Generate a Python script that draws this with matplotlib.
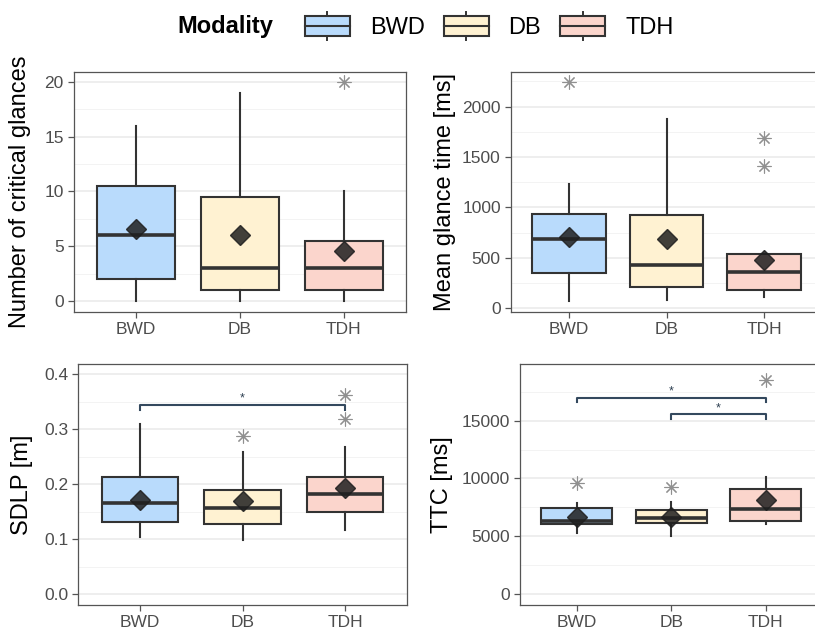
import matplotlib
matplotlib.use("Agg")
import matplotlib.pyplot as plt
from matplotlib.patches import Rectangle
from matplotlib.lines import Line2D
from matplotlib.legend_handler import HandlerBase
from matplotlib.ticker import MultipleLocator, FormatStrFormatter

plt.rcParams['font.family'] = ['Liberation Sans', 'DejaVu Sans']

# ------------------------------------------
# Data
# ------------------------------------------
groups = ["BWD", "DB", "TDH"]
fills = ["#b9dbfc", "#fff2d2", "#fbd5cc"]

# Number of critical glances
glance_q1 = [2, 1, 1]
glance_med = [6, 3, 3]
glance_q3 = [10.5, 9.5, 5.5]
glance_lo = [0, 0, 0]
glance_hi = [16, 19, 10]
glance_mean = [6.6, 6.0, 4.6]
glance_out = [[], [], [20]]

# Mean glance time [ms]
mgt_q1 = [353, 208, 182]
mgt_med = [687, 430, 357]
mgt_q3 = [932, 925, 536]
mgt_lo = [75, 82, 109]
mgt_hi = [1230, 1878, 536]
mgt_mean = [710, 687, 479]
mgt_out = [[2242], [], [1686, 1412]]

# SDLP [m]
sdlp_q1 = [0.131, 0.127, 0.150]
sdlp_med = [0.166, 0.157, 0.181]
sdlp_q3 = [0.213, 0.190, 0.212]
sdlp_lo = [0.103, 0.099, 0.116]
sdlp_hi = [0.309, 0.258, 0.267]
sdlp_mean = [0.171, 0.169, 0.192]
sdlp_out = [[], [0.287], [0.362, 0.318]]
sdlp_sig = [(1, 3, 0.344, 0.335)]

# TTC [ms]
ttc_q1 = [6033, 6120, 6345]
ttc_med = [6345, 6600, 7357]
ttc_q3 = [7418, 7270, 9088]
ttc_lo = [5306, 5020, 6033]
ttc_hi = [7850, 7990, 10100]
ttc_mean = [6690, 6690, 8136]
ttc_out = [[9580], [9290], [18520]]
ttc_sig = [(1, 3, 16990, 16590), (2, 3, 15580, 15150)]


def make_stats(q1, med, q3, lo, hi, mean, out):
    stats = []
    for i in range(len(groups)):
        stats.append(dict(q1=q1[i], med=med[i], q3=q3[i], whislo=lo[i],
                          whishi=hi[i], mean=mean[i], fliers=out[i], label=groups[i]))
    return stats


def draw_panel(ax, stats, ylabel, ylim, major, minor, label_x, sig=None):
    ax.bxp(stats, positions=[1, 2, 3], widths=0.75, patch_artist=True,
           showmeans=True, showcaps=False, showfliers=True,
           boxprops=dict(edgecolor="#333333", linewidth=1.5),
           medianprops=dict(color="#333333", linewidth=2.6),
           whiskerprops=dict(color="#333333", linewidth=1.5),
           meanprops=dict(marker="D", markersize=10, markerfacecolor="#1f1f1f",
                          markeredgecolor="#1f1f1f", alpha=0.85),
           flierprops=dict(marker=(8, 2, 0), markersize=10, markeredgecolor="#909090",
                           markeredgewidth=0.8, linestyle="none"))
    for patch, c in zip(ax.patches, fills):
        patch.set_facecolor(c)

    if sig:
        for x1, x2, y, ytick in sig:
            ax.plot([x1, x1, x2, x2], [ytick, y, y, ytick], color="#34495e", lw=1.5, zorder=5)
            ax.text((x1 + x2) / 2, y, "*", ha="center", va="bottom", fontsize=9,
                    color="#2c3e50")

    ax.set_xlim(0.4, 3.6)
    ax.set_ylim(*ylim)
    ax.yaxis.set_major_locator(MultipleLocator(major))
    ax.yaxis.set_minor_locator(MultipleLocator(minor))
    ax.grid(True, axis="y", which="major", color="#ebebeb", lw=1.2, zorder=0)
    ax.grid(True, axis="y", which="minor", color="#f3f3f3", lw=0.7, zorder=0)
    ax.set_axisbelow(True)
    ax.tick_params(axis="both", which="major", length=4, width=0.9, color="#555555",
                   labelsize=12.5, labelcolor="#4d4d4d", pad=3)
    ax.tick_params(axis="y", which="minor", length=0)
    for s in ax.spines.values():
        s.set_color("#555555")
        s.set_linewidth(0.9)
    ax.set_xticks([1, 2, 3])
    ax.set_xticklabels(groups)
    ax.set_ylabel(ylabel, fontsize=17, color="black")
    ax.yaxis.set_label_coords(label_x, 0.5)


class BoxHandler(HandlerBase):
    def create_artists(self, legend, orig_handle, xdescent, ydescent, width, height,
                       fontsize, trans):
        x0, y0 = -xdescent, -ydescent
        bh = height * 0.66
        by = y0 + (height - bh) / 2
        rect = Rectangle((x0, by), width, bh, facecolor=orig_handle.get_facecolor(),
                         edgecolor="#333333", lw=1.5, transform=trans)
        med = Line2D([x0, x0 + width], [by + bh / 2] * 2, color="#333333", lw=1.5,
                     transform=trans)
        wt = Line2D([x0 + width / 2] * 2, [by + bh, y0 + height], color="#333333",
                    lw=1.4, transform=trans)
        wb = Line2D([x0 + width / 2] * 2, [y0, by], color="#333333", lw=1.4,
                    transform=trans)
        return [rect, med, wt, wb]


fig = plt.figure(figsize=(8.15, 6.34), dpi=100)

ax1 = fig.add_axes([0.0902, 0.508, 0.408, 0.3785])
ax2 = fig.add_axes([0.6264, 0.508, 0.3828, 0.3785])
ax3 = fig.add_axes([0.0963, 0.0457, 0.4025, 0.380])
ax4 = fig.add_axes([0.638, 0.0457, 0.371, 0.380])

draw_panel(ax1, make_stats(glance_q1, glance_med, glance_q3, glance_lo, glance_hi,
                           glance_mean, glance_out),
           "Number of critical glances", (-1, 20.9), 5, 2.5, -0.128)
draw_panel(ax2, make_stats(mgt_q1, mgt_med, mgt_q3, mgt_lo, mgt_hi, mgt_mean, mgt_out),
           "Mean glance time [ms]", (-37, 2344), 500, 250, -0.175)
draw_panel(ax3, make_stats(sdlp_q1, sdlp_med, sdlp_q3, sdlp_lo, sdlp_hi, sdlp_mean,
                           sdlp_out),
           "SDLP [m]", (-0.02, 0.418), 0.1, 0.05, -0.139, sig=sdlp_sig)
ax3.yaxis.set_major_formatter(FormatStrFormatter("%.1f"))
draw_panel(ax4, make_stats(ttc_q1, ttc_med, ttc_q3, ttc_lo, ttc_hi, ttc_mean, ttc_out),
           "TTC [ms]", (-950, 19900), 5000, 2500, -0.222, sig=ttc_sig)

# legend on top
fig.text(177 / 815, 1 - 26 / 634, "Modality", fontsize=17, fontweight="bold",
         ha="left", va="center")
handles = [Rectangle((0, 0), 1, 1, facecolor=c) for c in fills]
fig.legend(handles, groups, handler_map={Rectangle: BoxHandler()},
           loc="center left", bbox_to_anchor=(305 / 815, 1 - 26 / 634), ncol=3,
           frameon=False, fontsize=17, handlelength=1.9, handleheight=1.5,
           handletextpad=0.85, columnspacing=0.8, borderpad=0, borderaxespad=0)

fig.savefig("out.png", dpi=100)
